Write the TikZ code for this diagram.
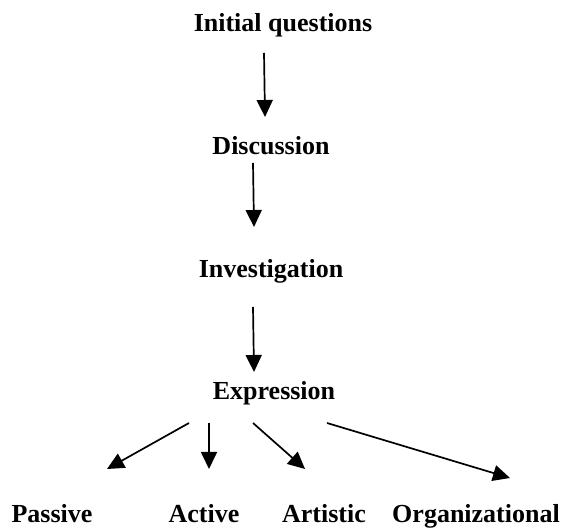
\documentclass[tikz,border=0pt]{standalone}
\usepackage{fontspec}
\setmainfont{Liberation Serif}
\usetikzlibrary{arrows.meta,calc}
\begin{document}
\begin{tikzpicture}[x=1pt,y=1pt,
  lbl/.style={anchor=base,inner sep=0pt,font=\fontsize{26}{30}\selectfont\bfseries},
  arr/.style={line width=1.7pt,-{Triangle[length=17pt,width=16pt]}}]
\useasboundingbox (0,0) rectangle (567,529);
\node[lbl] (init) at (283,497) {Initial questions};
\node[lbl] (disc) at (271,374) {Discussion};
\node[lbl] (inv)  at (271,251) {Investigation};
\node[lbl] (expr) at (274,129) {Expression};
\node[lbl] (pas)  at (52,6)   {Passive};
\node[lbl] (act)  at (204,6)  {Active};
\node[lbl] (art)  at (324,6)  {Artistic};
\node[lbl] (org)  at (476,6)  {Organizational};
\draw[arr] ($(init.base)+(-19,-21)$) -- ($(disc.base)+(-6,38)$);
\draw[arr] ($(disc.base)+(-18,-8)$) -- ($(inv.base)+(-17,51)$);
\draw[arr] ($(inv.base)+(-18,-29)$) -- ($(expr.base)+(-20,28)$);
\draw[arr] ($(expr.base)+(-85,-23)$) -- ($(pas.base)+(55,54)$);
\draw[arr] ($(expr.base)+(-65,-23)$) -- ($(act.base)+(5,54)$);
\draw[arr] ($(expr.base)+(-21,-23)$) -- ($(art.base)+(-19,54)$);
\draw[arr] ($(expr.base)+(53,-23)$) -- ($(org.base)+(34,45)$);
\end{tikzpicture}
\end{document}
